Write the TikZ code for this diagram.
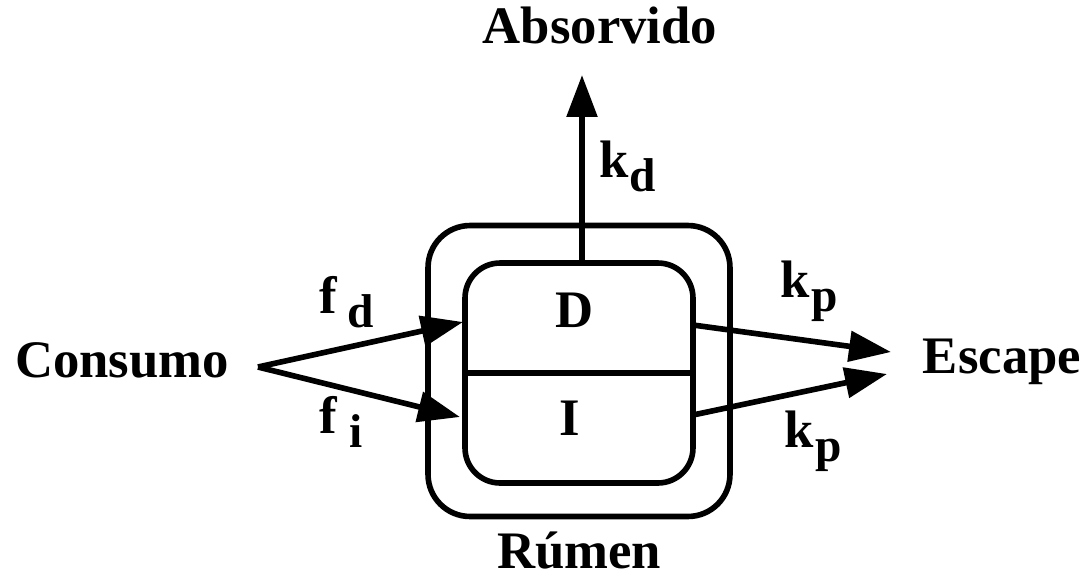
\documentclass[tikz,border=0pt]{standalone}
\usepackage{fontspec}
\setmainfont{Liberation Serif}
\usetikzlibrary{arrows.meta}
% taxa com indice rebaixado
\newcommand\idx[3][0pt]{#2\kern#1\raisebox{-0.28cm}{\fontsize{27}{30}\selectfont #3}}

\begin{document}
\begin{tikzpicture}[x=0.02cm,y=-0.02cm,line width=3.2pt,line join=round,font=\fontsize{30}{36}\selectfont\bfseries,>={Triangle[length=0.84cm,width=0.6cm]}]
	\tikzset{caixa/.style={draw,rounded corners=#1,inner sep=0pt},
		rotulo/.style={anchor=base},
		taxa/.style={anchor=base west,inner sep=0pt}}
	\useasboundingbox (0,0) rectangle (1090,586);
	% compartimentos
	\node[caixa=0.84cm,minimum width=6.04cm,minimum height=5.82cm] (rumen) at (579,371) {};
	\node[caixa=0.7cm,minimum width=4.56cm,minimum height=4.4cm] (inner) at (579,373) {};
	\draw (inner.west) -- (inner.east);
	\node[rotulo] (D) at (575,327) {D};
	\node[rotulo] (I) at (570,435) {I};
	% textos
	\node[rotulo] (cons) at (122,377) {Consumo};
	\node[rotulo] (esc) at (1002,373) {Escape};
	\node[rotulo] (abs) at (600,43) {Absorvido};
	\node[rotulo] (rum) at (579,568) {Rúmen};
	% pontas das setas
	\coordinate (c0) at (258,367);
	\coordinate (fd) at (463,322);
	\coordinate (fi) at (460,417);
	\coordinate (kd) at (582,75);
	\coordinate (p1) at (693,325);
	\coordinate (p2) at (693,415);
	\coordinate (e1) at (891,352);
	\coordinate (e2) at (887,374);
	\draw[->] (c0) -- (fd);
	\draw[->] (c0) -- (fi);
	\draw[->] (kd |- inner.north) -- (kd);
	\draw[->] (p1) -- (e1);
	\draw[->] (p2) -- (e2);
	% taxas
	\node[taxa] (tkd) at (597,177) {\idx{k}{d}};
	\node[taxa] (tfd) at (317,313) {\idx[6pt]{f}{d}};
	\node[taxa] (tfi) at (317,433) {\idx[7pt]{f}{i}};
	\node[taxa] (tkp1) at (778,297) {\idx[1pt]{k}{p}};
	\node[taxa] (tkp2) at (782,447) {\idx[1pt]{k}{p}};
\end{tikzpicture}
\end{document}
